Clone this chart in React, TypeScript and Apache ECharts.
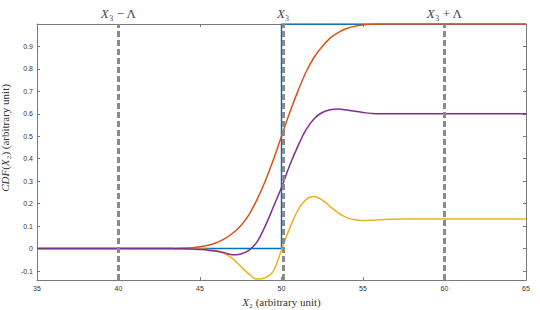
import React, { useEffect, useRef } from 'react';
import * as echarts from 'echarts';

// Sample positions along X2 (arbitrary unit)
const xSamples = [35, 42, 42.5, 43, 43.5, 44, 44.5, 45, 45.5, 46, 46.5, 47, 47.5, 48, 48.5, 49, 49.5, 50, 50.5, 51, 51.5, 52, 52.5, 53, 53.5, 54, 54.5, 55, 55.5, 56, 56.5, 57, 57.5, 58, 65];

// Step CDF (blue)
const blueX = [35, 50, 50, 65];
const blueY = [0, 0, 1, 1];

// Smoothed CDF (orange)
const orangeY = [0, 0, 0, 0.0005, 0.001, 0.002, 0.004, 0.008, 0.015, 0.026, 0.043, 0.068, 0.102, 0.15, 0.218, 0.3, 0.395, 0.5, 0.605, 0.7, 0.785, 0.852, 0.9, 0.938, 0.963, 0.98, 0.99, 0.996, 0.999, 1, 1, 1, 1, 1, 1];

// Yellow curve
const yellowY = [0, 0, 0, 0, 0, 0, -0.001, -0.002, -0.004, -0.009, -0.022, -0.045, -0.08, -0.113, -0.136, -0.13, -0.1, -0.005, 0.09, 0.17, 0.218, 0.232, 0.216, 0.186, 0.158, 0.138, 0.128, 0.125, 0.126, 0.128, 0.13, 0.131, 0.132, 0.132, 0.132];

// Purple curve
const purpleY = [0, 0, 0, 0, -0.0005, -0.001, -0.002, -0.004, -0.007, -0.012, -0.019, -0.028, -0.024, -0.008, 0.03, 0.1, 0.185, 0.272, 0.37, 0.455, 0.528, 0.578, 0.606, 0.618, 0.621, 0.617, 0.611, 0.606, 0.602, 0.6, 0.6, 0.6, 0.6, 0.6, 0.6];

// Reference vertical lines and their labels
const refLines = [40, 50.1, 60];
const refLabels = ['{i|X}₃ − Λ', '{i|X}₃', '{i|X}₃ + Λ'];

const xMin = 35;
const xMax = 65;
const xInterval = 5;
const yMin = -0.14;
const yMax = 1;

const pairs = (xs: number[], ys: number[]) => xs.map((x, i) => [x, ys[i]]);

const AXIS_COLOR = '#7a7a7a';
const TEXT_COLOR = '#333333';
const SERIF = '"Liberation Serif", "DejaVu Serif", serif';
const SANS = '"Liberation Sans", Arial, sans-serif';

export default function App() {
  const ref = useRef<HTMLDivElement>(null);

  useEffect(() => {
    document.body.style.margin = '0';
    if (!ref.current) return;
    const chart = echarts.init(ref.current, undefined, { renderer: 'svg' });

    const axisLineCommon = { show: true, onZero: false, lineStyle: { color: AXIS_COLOR, width: 1 } };
    const tickCommon = { show: true, inside: true, length: 3, lineStyle: { color: AXIS_COLOR, width: 1 } };

    const yFormatter = (v: number) => {
      const r = Math.round(v * 10) / 10;
      if (Math.abs(v - r) > 1e-9 || r > 0.95) return '';
      return String(r);
    };

    const curve = (name: string, color: string, ys: number[]) => ({
      name,
      type: 'line',
      data: pairs(xSamples, ys),
      smooth: 0.4,
      showSymbol: false,
      symbol: 'none',
      z: 3,
      lineStyle: { color, width: 1.5 },
    });

    chart.setOption({
      animation: false,
      backgroundColor: '#ffffff',
      grid: { left: 37, right: 14, top: 24, bottom: 30, containLabel: false, outerBoundsMode: 'none' },
      xAxis: [
        {
          type: 'value',
          min: xMin,
          max: xMax,
          interval: xInterval,
          position: 'bottom',
          axisLine: axisLineCommon,
          axisTick: tickCommon,
          splitLine: { show: false },
          axisLabel: { fontSize: 7, color: TEXT_COLOR, fontFamily: SANS, margin: 5 },
          name: '{i|X}₂ (arbitrary unit)',
          nameLocation: 'middle',
          nameGap: 14,
          nameTextStyle: {
            fontFamily: SERIF,
            fontSize: 11,
            color: TEXT_COLOR,
            rich: { i: { fontStyle: 'italic', fontFamily: SERIF, fontSize: 11, color: TEXT_COLOR } },
          },
        },
        {
          type: 'value',
          min: xMin,
          max: xMax,
          interval: xInterval,
          position: 'top',
          axisLine: axisLineCommon,
          axisTick: tickCommon,
          splitLine: { show: false },
          axisLabel: { show: false },
        },
      ],
      yAxis: [
        {
          type: 'value',
          min: yMin,
          max: yMax,
          splitNumber: 10,
          position: 'left',
          axisLine: axisLineCommon,
          axisTick: tickCommon,
          splitLine: { show: false },
          axisLabel: { fontSize: 7, color: TEXT_COLOR, fontFamily: SANS, margin: 4, formatter: yFormatter },
          name: '{i|CDF}({i|X}₂) (arbitrary unit)',
          nameLocation: 'middle',
          nameGap: 20,
          nameTextStyle: {
            fontFamily: SERIF,
            fontSize: 11,
            color: TEXT_COLOR,
            padding: [0, 0, 0, 28],
            rich: { i: { fontStyle: 'italic', fontFamily: SERIF, fontSize: 11, color: TEXT_COLOR } },
          },
        },
        {
          type: 'value',
          min: yMin,
          max: yMax,
          splitNumber: 10,
          position: 'right',
          axisLine: axisLineCommon,
          axisTick: tickCommon,
          splitLine: { show: false },
          axisLabel: { show: false },
        },
      ],
      series: [
        {
          name: 'refs',
          type: 'line',
          data: [],
          z: 1,
          silent: true,
          markLine: {
            silent: true,
            animation: false,
            symbol: ['none', 'none'],
            lineStyle: { color: '#8a8a8a', width: 3, type: [6, 3] },
            label: {
              show: true,
              position: 'end',
              distance: 4,
              fontFamily: SERIF,
              fontSize: 13,
              color: '#444444',
              rich: { i: { fontStyle: 'italic', fontFamily: SERIF, fontSize: 13, color: '#444444' } },
            },
            data: refLines.map((v, i) => ({ xAxis: v, label: { formatter: refLabels[i] } })),
          },
        },
        {
          name: 'step',
          type: 'line',
          data: pairs(blueX, blueY),
          showSymbol: false,
          symbol: 'none',
          z: 3,
          lineStyle: { color: '#0072BD', width: 1.5 },
        },
        curve('orange', '#D95319', orangeY),
        curve('yellow', '#EDB120', yellowY),
        curve('purple', '#7E2F8E', purpleY),
      ],
    });

    return () => chart.dispose();
  }, []);

  return <div ref={ref} style={{ width: 540, height: 310, position: 'absolute', left: 0, top: 0 }} />;
}
